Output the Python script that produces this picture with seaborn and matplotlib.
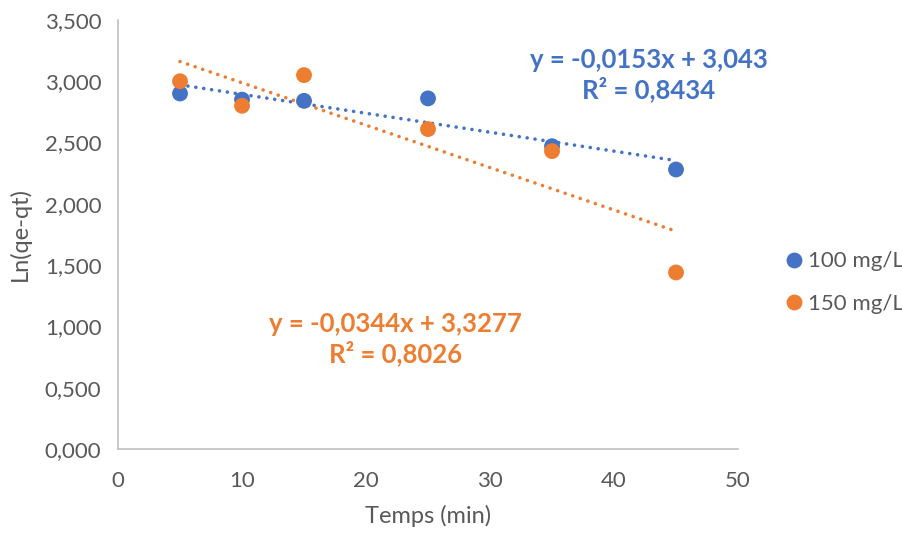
import numpy as np
import pandas as pd
import seaborn as sns
import matplotlib.pyplot as plt
from matplotlib.ticker import FuncFormatter

# Data
temps = [5, 10, 15, 25, 35, 45]
ln_100 = [2.90, 2.85, 2.84, 2.86, 2.47, 2.28]
ln_150 = [3.00, 2.80, 3.05, 2.61, 2.43, 1.44]
series = ["100 mg/L", "150 mg/L"]
colors = ["#4472C4", "#ED7D31"]
equations = ["y = -0,0153x + 3,043\nR² = 0,8434", "y = -0,0344x + 3,3277\nR² = 0,8026"]

df = pd.DataFrame({
    "Temps": temps * 2,
    "Ln": ln_100 + ln_150,
    "Serie": [series[0]] * len(temps) + [series[1]] * len(temps),
})

sns.set_style("white")
plt.rcParams["font.family"] = ["Lato", "DejaVu Sans"]

fig = plt.figure(figsize=(9.03, 5.33), dpi=100)
ax = fig.add_axes([0.1307, 0.1576, 0.6866, 0.805])

sns.scatterplot(data=df, x="Temps", y="Ln", hue="Serie", palette=colors,
                s=130, edgecolor="none", ax=ax, legend=True, zorder=3)

# Linear trend lines (dotted)
for name, col in zip(series, colors):
    sub = df[df["Serie"] == name]
    k, b = np.polyfit(sub["Temps"], sub["Ln"], 1)
    xs = np.array([min(temps), max(temps)])
    ax.plot(xs, k * xs + b, linestyle=(0, (0.01, 2.2)), color=col, lw=2.6,
            dash_capstyle="round", zorder=2)

# Equation labels
ax.text(42.8, 3.05, equations[0], color=colors[0], fontsize=18.5, fontweight="bold",
        ha="center", va="center", linespacing=1.2)
ax.text(22.4, 0.90, equations[1], color=colors[1], fontsize=18.5, fontweight="bold",
        ha="center", va="center", linespacing=1.2)

ax.set_xlim(0, 50)
ax.set_ylim(0, 3.5)
ax.set_xticks(range(0, 51, 10))
ax.set_yticks(np.arange(0, 3.51, 0.5))
ax.yaxis.set_major_formatter(FuncFormatter(lambda v, p: f"{v:.3f}".replace(".", ",")))
ax.tick_params(axis="both", labelsize=16, colors="#595959", length=0)
ax.tick_params(axis="x", pad=16)
ax.tick_params(axis="y", pad=12)
ax.set_xlabel("Temps (min)", fontsize=17, color="#595959", labelpad=10)
ax.set_ylabel("Ln(qe-qt)", fontsize=17, color="#595959", labelpad=10)

for side in ["top", "right"]:
    ax.spines[side].set_visible(False)
for side in ["left", "bottom"]:
    ax.spines[side].set_color("#BFBFBF")
    ax.spines[side].set_linewidth(1.2)

handles, labels = ax.get_legend_handles_labels()
ax.legend_.remove()
leg = fig.legend(handles, labels, loc="center left", bbox_to_anchor=(0.870, 0.47),
                 frameon=False, fontsize=16, handlelength=0.8, handletextpad=0.2,
                 labelspacing=1.0, borderpad=0, borderaxespad=0)
for t in leg.get_texts():
    t.set_color("#595959")

fig.savefig("out.png", dpi=100)
